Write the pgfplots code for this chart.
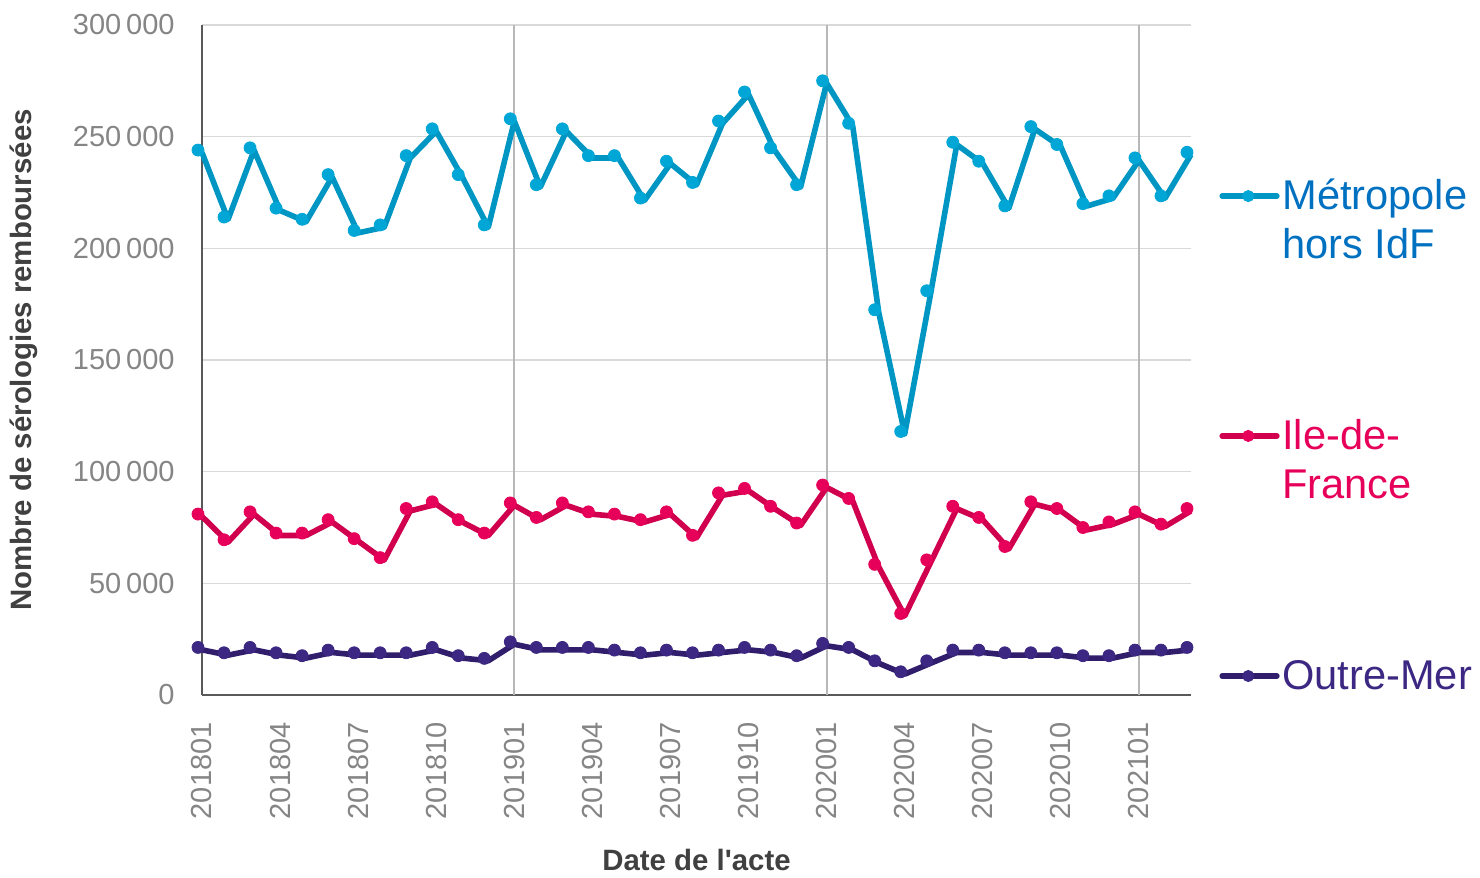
\documentclass[border=0pt]{standalone}
\usepackage{pgfplots}
\pgfplotsset{compat=1.18}
\usepackage{pgfplotstable}
\usepackage{fontspec}
\setmainfont{Liberation Sans}
\newfontfamily\plainsans{Liberation Sans}
\definecolor{metroL}{RGB}{0,150,195}
\definecolor{metroM}{RGB}{0,166,214}
\definecolor{metroT}{RGB}{0,112,192}
\definecolor{idfL}{RGB}{208,0,78}
\definecolor{idfM}{RGB}{230,0,90}
\definecolor{omL}{RGB}{48,30,108}
\definecolor{omM}{RGB}{60,40,130}
\definecolor{tickgray}{RGB}{133,133,133}
\definecolor{labgray}{RGB}{64,64,64}
\definecolor{axgray}{RGB}{89,89,89}

\pgfplotstableread{
x metro idf om
0 244000 81000 21300
1 214000 69500 18900
2 245000 82000 21300
3 218000 72500 18900
4 213000 72500 17600
5 233000 78500 20100
6 208000 70000 18900
7 210500 61500 18900
8 241500 83500 18900
9 253500 86500 21300
10 233000 78500 17600
11 210500 72500 16400
12 258000 86000 23800
13 228500 79500 21300
14 253500 86000 21300
15 241500 82000 21300
16 241500 81000 20100
17 222500 78500 18900
18 239000 82000 20100
19 229500 71500 18900
20 257000 90500 20100
21 270000 92500 21300
22 245000 84500 20100
23 228500 77000 17600
24 275000 94000 23100
25 256000 88000 21300
26 172500 58500 15300
27 118000 36500 10400
28 181000 60500 15300
29 247500 84500 20100
30 239000 79500 20100
31 219000 66500 18900
32 254500 86500 18900
33 246500 83500 18900
34 220000 75000 17600
35 223500 77500 17600
36 240500 82000 20100
37 223500 76500 20100
38 243000 83500 21300
}\datatable

\begin{document}
\begin{tikzpicture}
\begin{axis}[
  at={(0,0)}, anchor=south west,
  scale only axis,
  width=494.5pt, height=335pt,
  xmin=0, xmax=38, ymin=0, ymax=300000,
  clip=false,
  scaled y ticks=false,
  axis x line*=bottom, axis y line*=left,
  axis line style={color=axgray, line width=1pt},
  major tick length=0pt,
  xtick={0,3,...,36},
  xticklabels={201801,201804,201807,201810,201901,201904,201907,201910,202001,202004,202007,202010,202101},
  ytick={0,50000,100000,150000,200000,250000,300000},
  yticklabels={0,50\,000,100\,000,150\,000,200\,000,250\,000,300\,000},
  /pgf/number format/assume math mode=true,
  ticklabel style={font=\fontsize{14.5}{17}\selectfont, text=tickgray, inner sep=0pt},
  xticklabel style={rotate=90, anchor=east},
  yticklabel style={anchor=east},
  xticklabel shift=13.5pt,
  yticklabel shift=13.5pt,
  ymajorgrids=true,
  major grid style={color=black!15, line width=0.75pt},
  extra x ticks={12,24,36},
  extra x tick labels={},
  extra x tick style={xmajorgrids=true, ymajorgrids=false, major grid style={color=black!28, line width=1pt}},
  xlabel={{\plainsans Date de l'acte}},
  ylabel={Nombre de sérologies remboursées},
  every axis x label/.style={at={(axis description cs:0.5,-0.246)}, anchor=center, font=\bfseries\fontsize{14.7}{17}\selectfont, text=labgray},
  every axis y label/.style={at={(axis description cs:-0.18,0.5)}, anchor=center, rotate=90, font=\bfseries\fontsize{14.7}{17}\selectfont, text=labgray},
]
% lines
\addplot[metroL, line width=2.8pt, line join=round, no markers, yshift=-1.2pt] table[x=x, y=metro] {\datatable};
\addplot[idfL, line width=2.8pt, line join=round, no markers, yshift=-1.2pt] table[x=x, y=idf] {\datatable};
\addplot[omL, line width=2.8pt, line join=round, no markers, yshift=-1.2pt] table[x=x, y=om] {\datatable};
% markers
\addplot[only marks, mark=*, mark size=3pt, xshift=-2pt, mark options={fill=metroM, draw=metroM}] table[x=x, y=metro] {\datatable};
\addplot[only marks, mark=*, mark size=3pt, xshift=-2pt, mark options={fill=idfM, draw=idfM}] table[x=x, y=idf] {\datatable};
\addplot[only marks, mark=*, mark size=3pt, xshift=-2pt, mark options={fill=omM, draw=omM}] table[x=x, y=om] {\datatable};
% legend glyphs
\addplot[metroL, line width=2.8pt, line cap=round, no markers] coordinates {(39.2,223400) (41.3,223400)};
\addplot[only marks, mark=*, mark size=2.8pt, mark options={fill=metroM, draw=metroM}] coordinates {(40.2,223400)};
\addplot[idfL, line width=2.8pt, line cap=round, no markers] coordinates {(39.2,116000) (41.3,116000)};
\addplot[only marks, mark=*, mark size=2.8pt, mark options={fill=idfM, draw=idfM}] coordinates {(40.2,116000)};
\addplot[omL, line width=2.8pt, line cap=round, no markers] coordinates {(39.2,8500) (41.3,8500)};
\addplot[only marks, mark=*, mark size=2.8pt, mark options={fill=omM, draw=omM}] coordinates {(40.2,8500)};
\end{axis}
\begin{scope}[every node/.style={anchor=base west, inner sep=0pt, font=\fontsize{20.8}{24}\selectfont}]
\node[text=metroT] at (540pt,242.5pt) {Métropole};
\node[text=metroT] at (540pt,218pt) {hors IdF};
\node[text=idfM] at (540pt,122.5pt) {Ile-de-};
\node[text=idfM] at (540pt,98pt) {France};
\node[text=omM] at (540pt,2.5pt) {Outre-Mer};
\end{scope}
\path (-101pt,-88.5pt) rectangle (639pt,347.5pt);
\end{tikzpicture}
\end{document}
